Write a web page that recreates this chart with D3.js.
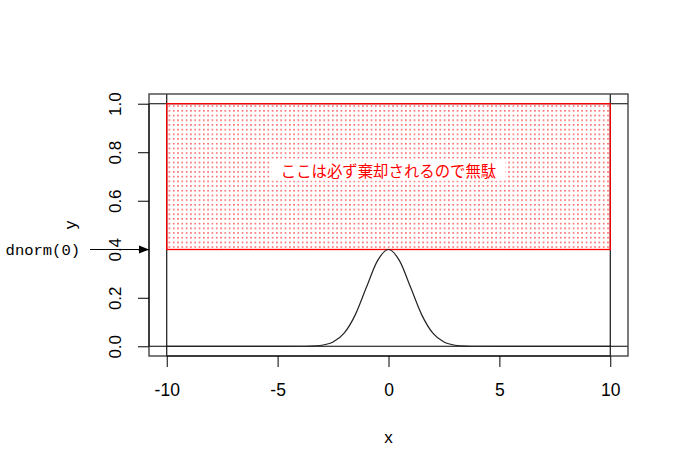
<!DOCTYPE html>
<html>
<head>
<meta charset="utf-8">
<script src="https://cdn.jsdelivr.net/npm/d3@7"></script>
<style>
  body { margin: 0; background: #fff; }
  svg text { font-family: "Liberation Sans", Arial, sans-serif; }
</style>
</head>
<body>
<div id="chart"></div>
<script>
// curve points
var curveX = [-10, -8, -6, -5, -4, -3.5, -3, -2.5, -2, -1.5, -1, -0.5, 0,
              0.5, 1, 1.5, 2, 2.5, 3, 3.5, 4, 5, 6, 8, 10];
var curveY = [0, 0, 0, 0, 0.0001, 0.0009, 0.0044, 0.0175, 0.054, 0.1295, 0.242, 0.352, 0.399,
              0.352, 0.242, 0.1295, 0.054, 0.0175, 0.0044, 0.0009, 0.0001, 0, 0, 0, 0];
var xTicks = [-10, -5, 0, 5, 10];
var yTicks = [0, 0.2, 0.4, 0.6, 0.8, 1.0];
var hLines = [0, 1];
var vLines = [-10, 10];
var region = {x0: -10, x1: 10, y0: 0.399, y1: 1};
var note = "ここは必ず棄却されるので無駄";
var arrowLabel = "dnorm(0)";
var arrowAt = 0.399;

var width = 677, height = 475;
var mLeft = 149, mRight = 628, mTop = 94, mBottom = 356;

var x = d3.scaleLinear().domain([-10.8, 10.8]).range([mLeft, mRight]);
var y = d3.scaleLinear().domain([-0.04, 1.04]).range([mBottom, mTop]);

var svg = d3.select('#chart').append('svg')
    .attr('width', width)
    .attr('height', height);

// dotted fill pattern
var defs = svg.append('defs');
var pat = defs.append('pattern')
    .attr('id', 'dots')
    .attr('patternUnits', 'userSpaceOnUse')
    .attr('width', 4.3)
    .attr('height', 4.7);
pat.append('rect')
    .attr('x', 1).attr('y', 2)
    .attr('width', 1.4).attr('height', 1.4)
    .attr('fill', '#ff3030');

// reference lines
svg.selectAll('.hline').data(hLines).enter().append('line')
    .attr('class', 'hline')
    .attr('x1', mLeft).attr('x2', mRight)
    .attr('y1', function (d) { return y(d); })
    .attr('y2', function (d) { return y(d); })
    .style('stroke', '#000').style('stroke-width', 1.1);
svg.selectAll('.vline').data(vLines).enter().append('line')
    .attr('class', 'vline')
    .attr('y1', mTop).attr('y2', mBottom)
    .attr('x1', function (d) { return x(d); })
    .attr('x2', function (d) { return x(d); })
    .style('stroke', '#000').style('stroke-width', 1.1);

// rejected region
svg.append('rect')
    .attr('x', x(region.x0))
    .attr('y', y(region.y1))
    .attr('width', x(region.x1) - x(region.x0))
    .attr('height', y(region.y0) - y(region.y1))
    .style('fill', 'url(#dots)')
    .style('stroke', '#ff0000')
    .style('stroke-width', 1.3);

// note with white backing
var cx = x(0), cy = y(0.72);
svg.append('rect')
    .attr('x', cx - 117).attr('y', cy - 13)
    .attr('width', 234).attr('height', 22)
    .style('fill', '#fff');
svg.append('text')
    .attr('x', cx).attr('y', cy + 5)
    .attr('text-anchor', 'middle')
    .style('font-family', '"Noto Sans CJK JP", sans-serif')
    .style('font-size', '15.4px')
    .style('fill', '#ff0000')
    .text(note);

// density curve
var line = d3.line()
    .x(function (d, i) { return x(curveX[i]); })
    .y(function (d) { return y(d); })
    .curve(d3.curveMonotoneX);
svg.append('path')
    .attr('d', line(curveY))
    .style('fill', 'none')
    .style('stroke', '#222')
    .style('stroke-width', 1.2);

// plot box
svg.append('rect')
    .attr('x', mLeft).attr('y', mTop)
    .attr('width', mRight - mLeft).attr('height', mBottom - mTop)
    .style('fill', 'none')
    .style('stroke', '#444')
    .style('stroke-width', 1.4);

// axes
var xAxis = svg.append('g')
    .attr('transform', 'translate(0,' + mBottom + ')')
    .call(d3.axisBottom(x).tickValues(xTicks).tickSize(11).tickPadding(17)
        .tickFormat(function (d) { return String(d); }));
xAxis.select('.domain').attr('d', 'M' + x(-10) + ',0H' + x(10));
xAxis.selectAll('text').style('font-size', '17.5px').style('fill', '#000')
    .style('font-family', '"Liberation Sans", Arial, sans-serif');

var yAxis = svg.append('g')
    .attr('transform', 'translate(' + mLeft + ',0)')
    .call(d3.axisLeft(y).tickValues(yTicks).tickSize(11).tickFormat(d3.format('.1f')));
yAxis.select('.domain').attr('d', 'M0,' + y(0) + 'V' + y(1));
yAxis.selectAll('text')
    .attr('x', null).attr('dy', null)
    .attr('text-anchor', 'middle')
    .attr('transform', 'translate(-28,0) rotate(-90)')
    .attr('y', 0)
    .style('font-size', '17px').style('fill', '#000')
    .style('font-family', '"Liberation Sans", Arial, sans-serif');

// axis titles
svg.append('text')
    .attr('x', x(0)).attr('y', 443)
    .attr('text-anchor', 'middle')
    .style('font-size', '17px')
    .text('x');
svg.append('text')
    .attr('transform', 'translate(76,' + ((mTop + mBottom) / 2) + ') rotate(-90)')
    .attr('text-anchor', 'middle')
    .style('font-size', '17px')
    .text('y');

// arrow to dnorm(0)
var ay = y(arrowAt);
svg.append('line')
    .attr('x1', 90).attr('x2', mLeft - 8)
    .attr('y1', ay).attr('y2', ay)
    .style('stroke', '#000').style('stroke-width', 1.1);
svg.append('path')
    .attr('d', 'M' + (mLeft - 10) + ',' + (ay - 4) + 'L' + mLeft + ',' + ay + 'L' + (mLeft - 10) + ',' + (ay + 4) + 'Z')
    .style('fill', '#000');
svg.append('text')
    .attr('x', 80).attr('y', ay + 5)
    .attr('text-anchor', 'end')
    .style('font-family', '"Liberation Mono", "DejaVu Sans Mono", monospace')
    .style('font-size', '15.5px')
    .text(arrowLabel);
</script>
</body>
</html>
